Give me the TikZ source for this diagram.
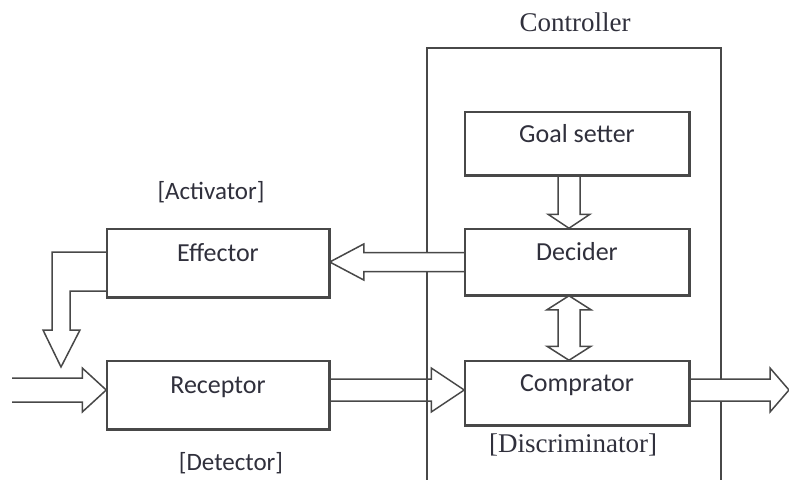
\documentclass[tikz,border=0pt]{standalone}
\usepackage{fontspec}
\setmainfont{Liberation Serif}
\newfontfamily\carl{Carlito}
\usetikzlibrary{calc}

\definecolor{linec}{RGB}{72,72,72}
\definecolor{textc}{RGB}{48,48,60}

% hollow block arrows: from, to, shaft half width, head half width, head length
\newcommand\blkright[6][]{%
  \draw[blk,#1] let \p1=(#2), \p2=(#3) in
    (\x1,\y1+#4) -- (\x2-#6,\y1+#4) -- (\x2-#6,\y1+#5) -- (\x2,\y1)
    -- (\x2-#6,\y1-#5) -- (\x2-#6,\y1-#4) -- (\x1,\y1-#4);}
\newcommand\blkleft[5]{%
  \draw[blk] let \p1=(#1), \p2=(#2) in
    (\x1,\y1+#3) -- (\x2+#5,\y1+#3) -- (\x2+#5,\y1+#4) -- (\x2,\y1)
    -- (\x2+#5,\y1-#4) -- (\x2+#5,\y1-#3) -- (\x1,\y1-#3);}
\newcommand\blkdown[5]{%
  \draw[blk] let \p1=(#1), \p2=(#2) in
    (\x1-#3,\y1) -- (\x1-#3,\y2+#5) -- (\x1-#4,\y2+#5) -- (\x1,\y2)
    -- (\x1+#4,\y2+#5) -- (\x1+#3,\y2+#5) -- (\x1+#3,\y1);}
\newcommand\blkboth[5]{%
  \draw[blk] let \p1=(#1), \p2=(#2) in
    (\x1,\y1) -- (\x1+#4,\y1-#5) -- (\x1+#3,\y1-#5) -- (\x1+#3,\y2+#5)
    -- (\x1+#4,\y2+#5) -- (\x1,\y2) -- (\x1-#4,\y2+#5) -- (\x1-#3,\y2+#5)
    -- (\x1-#3,\y1-#5) -- (\x1-#4,\y1-#5) -- cycle;}

\tikzset{
  blk/.style={draw=linec, line width=1.5pt, fill=white, line join=miter},
  unit/.style={draw=linec, line width=1.5pt, fill=white, rectangle,
    text=textc, font=\carl\fontsize{26}{30}\selectfont,
    text height=18pt, text depth=21pt, inner sep=0pt},
  tag/.style={text=textc, inner sep=0pt, font=\carl\fontsize{25}{30}\selectfont},
  stag/.style={text=textc, inner sep=0pt, font=\fontsize{27}{32}\selectfont},
}

\begin{document}
\begin{tikzpicture}[x=1pt,y=-1pt]
\useasboundingbox (0,0) rectangle (789,479);
\clip (0,0) rectangle (789,479);

% controller frame, open towards the bottom edge
\node[draw=linec, line width=1.5pt, rectangle, minimum width=294pt,
      minimum height=460pt, inner sep=0pt] (ctrl) at (574,278) {};
\node[stag] (ctrltitle) at (575,22) {Controller};

% units
\node[unit, minimum width=224pt, minimum height=63pt] (goal) at (577,143.5) {Goal setter};
\node[unit, minimum width=224pt, minimum height=66pt] (decider) at (577,262) {Decider};
\node[unit, minimum width=224pt, minimum height=64pt] (comp) at (577,393) {Comprator};
\node[unit, minimum width=222pt, minimum height=68pt] (effector) at (218,263) {Effector};
\node[unit, minimum width=222pt, minimum height=68pt] (receptor) at (218,395) {Receptor};

% flow points
\coordinate (gs) at ($(goal.south)+(-8,0)$);
\coordinate (dn) at ($(decider.north)+(-8,0)$);
\coordinate (ds) at ($(decider.south)+(-8,0)$);
\coordinate (cn) at ($(comp.north)+(-8,0)$);
\coordinate (in) at (12,390);
\coordinate (rw) at (receptor.west |- in);
\coordinate (re) at (receptor.east |- in);
\coordinate (cw) at (comp.west |- in);
\coordinate (ce) at (comp.east |- in);
\coordinate (out) at (789,390);
\coordinate (ee) at (effector.east |- decider.west);
\coordinate (ew1) at ($(effector.west)+(0,-11)$);
\coordinate (ew2) at ($(effector.west)+(0,28)$);
\coordinate (drop) at (61,367);

% arrows
\blkdown{gs}{dn}{11pt}{21pt}{14pt}
\blkboth{ds}{cn}{11pt}{22pt}{14pt}
\blkleft{decider.west}{ee}{9.5pt}{18pt}{34pt}
\draw[blk] (ew1) -- (ew1 -| 52,0) -- (52,330) -- (43,330) -- (drop)
  -- (80,330) -- (70,330) -- (ew2 -| 70,0) -- (ew2);
\blkright{in}{rw}{12pt}{22pt}{24pt}
\blkright[fill=none]{re}{cw}{11pt}{22pt}{33pt}
\blkright{ce}{out}{11pt}{22pt}{19pt}

% redraw box outlines on top of the arrow ends
\foreach \n in {goal,decider,comp,effector,receptor}
  \draw[draw=linec, line width=1.5pt] (\n.north west) rectangle (\n.south east);

% side labels
\node[tag] (activ) at (211,192) {[Activator]};
\node[tag] (detect) at (231,463) {[Detector]};
\node[stag] (discr) at (573,445) {[Discriminator]};
\end{tikzpicture}
\end{document}
